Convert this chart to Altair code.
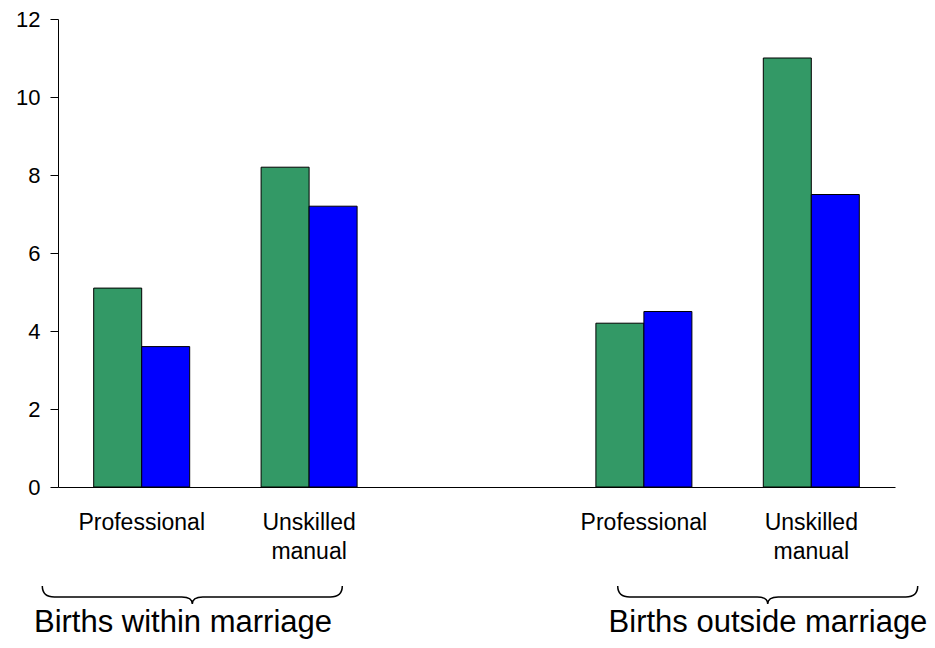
import altair as alt
import pandas as pd

# ---- data ----
groups = ["Births within marriage", "Births outside marriage"]
classes = ["Professional", "Unskilled manual"]
series = ["Series A", "Series B"]
green_values = [5.1, 8.2, 4.2, 11.0]   # within/prof, within/unskilled, outside/prof, outside/unskilled
blue_values = [3.6, 7.2, 4.5, 7.5]
colors = ["#339966", "#0000FF"]
y_ticks = [0, 2, 4, 6, 8, 10, 12]

slots = [f"{groups[0]}|{classes[0]}", f"{groups[0]}|{classes[1]}", "gap",
         f"{groups[1]}|{classes[0]}", f"{groups[1]}|{classes[1]}"]

rows = []
i = 0
for g in groups:
    for c in classes:
        rows.append({"slot": f"{g}|{c}", "series": series[0], "value": green_values[i]})
        rows.append({"slot": f"{g}|{c}", "series": series[1], "value": blue_values[i]})
        i += 1
df = pd.DataFrame(rows)
group_df = pd.DataFrame({"group": groups})

FONT = "Liberation Sans"

bars = alt.Chart(df).mark_bar(stroke="black", strokeWidth=1).encode(
    x=alt.X(
        "slot:N",
        scale=alt.Scale(domain=slots, paddingInner=0.4265, paddingOuter=0.21325),
        axis=alt.Axis(
            title=None, ticks=False, labelAngle=0,
            labelExpr="split(split(datum.value, '|')[1] || '', ' ')",
            labelFontSize=23, labelLineHeight=29, labelPadding=24,
            labelFont=FONT, labelColor="black", domainColor="black",
            domainWidth=1, labelOverlap=False,
        ),
    ),
    xOffset=alt.XOffset("series:N", scale=alt.Scale(domain=series, paddingInner=0, paddingOuter=0)),
    y=alt.Y(
        "value:Q",
        scale=alt.Scale(domain=[0, 12], nice=False),
        axis=alt.Axis(
            values=y_ticks, title=None, grid=False, tickSize=8,
            tickColor="black", domainColor="black", labelColor="black",
            labelFontSize=22, labelPadding=10, labelFont=FONT,
        ),
    ),
    color=alt.Color("series:N", scale=alt.Scale(domain=series, range=colors), legend=None),
)

brace_path = ("M -1 -0.073 C -1 -0.02 -0.97 0 -0.92 0 L -0.07 0 C -0.02 0 0 0.02 0 0.047 "
              "C 0 0.02 0.02 0 0.07 0 L 0.92 0 C 0.97 0 1 -0.02 1 -0.073")

braces = alt.Chart(group_df).mark_point(
    shape=brace_path, size=90000, filled=False, stroke="black",
    strokeWidth=1.5, opacity=1,
).encode(
    x=alt.X("group:N", scale=alt.Scale(type="point", domain=groups, padding=0.2273, align=0.5134),
            axis=None),
    y=alt.value(578),
)

group_labels = alt.Chart(group_df).mark_text(
    fontSize=31, font=FONT, baseline="alphabetic", align="center", color="black",
).encode(
    x=alt.X("group:N", scale=alt.Scale(type="point", domain=groups, padding=0.2154, align=0.496),
            axis=None),
    y=alt.value(613),
    text="group:N",
)

chart = alt.layer(bars, braces, group_labels).resolve_scale(
    x="independent"
).properties(
    width=837,
    height=468,
    autosize=alt.AutoSizeParams(type="none"),
    padding={"left": 50, "top": 11, "right": 32, "bottom": 153},
).configure(font=FONT).configure_view(stroke=None)

chart.save("out.html", embed_options={"renderer": "svg", "actions": False})
